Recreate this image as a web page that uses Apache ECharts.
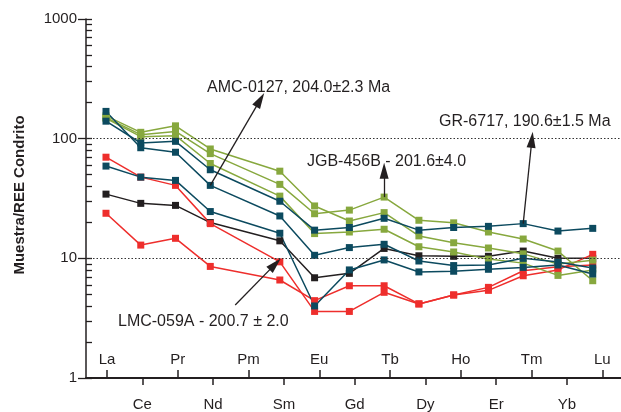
<!DOCTYPE html>
<html>
<head>
<meta charset="utf-8">
<script src="https://cdn.jsdelivr.net/npm/echarts@6/dist/echarts.min.js"></script>
<style>
  html, body { margin: 0; padding: 0; background: #fff; }
  #chart { width: 621px; height: 412px; }
</style>
</head>
<body>
<div id="chart"></div>
<script>
// Rare earth elements, chondrite-normalised (Pm not analysed)
const elements = ['La', 'Ce', 'Pr', 'Nd', 'Pm', 'Sm', 'Eu', 'Gd', 'Tb', 'Dy', 'Ho', 'Er', 'Tm', 'Yb', 'Lu'];
const yTicks = [1, 10, 100, 1000];

// Teal samples
const gr6717   = [140, 92, 95, 55, null, 30, 17.2, 18.1, 21.6, 17.2, 18.1, 18.5, 19.5, 16.9, 17.8];
const amc0127  = [169, 84, 77, 40.7, null, 22.6, 10.6, 12.3, 13.1, 9.5, 8.7, 8.8, 10.0, 9.3, 8.3];
const tealLow  = [59, 47.7, 44.8, 24.6, null, 16.2, 4.0, 8.0, 9.7, 7.7, 7.8, 8.1, 8.4, 8.8, 7.4];
// Green samples
const greenHigh = [155, 113, 128, 82, null, 53.5, 27.4, 20.5, 24.1, 15.4, 13.5, 12.2, 10.9, 8.95, 9.66];
const jgb456b   = [150, 108, 115, 75, null, 41.5, 23.6, 25.3, 32.5, 20.8, 19.8, 16.6, 14.5, 11.5, 6.5];
const greenLow  = [148, 104, 106, 62, null, 33.1, 16.1, 16.6, 17.5, 12.5, 11.3, 9.85, 9.12, 7.2, 8.0];
// Red samples
const lmc059a  = [70, 47.7, 40.7, 19.5, null, 9.35, 3.6, 3.6, 5.2, 4.16, 4.94, 5.4, 7.15, 8.0, 10.8];
const redLow   = [23.8, 12.9, 14.7, 8.56, null, 6.59, 4.43, 5.9, 5.9, 4.16, 4.94, 5.72, 7.87, 8.5, 8.8];
// Black sample
const blackSample = [34.4, 28.8, 27.7, 19.9, null, 14.0, 6.88, 7.49, 12.1, 10.5, 10.4, 10.4, 11.5, 10.0, 10.0];

// Annotation arrows: [from, to] in (element index, normalised value)
const amcArrow = [[3, 40.7], [4.435, 211]];
const grArrow  = [[12, 19.5], [12.25, 98]];
const jgbArrow = [[8, 32.5], [8, 54]];
const lmcArrow = [[3.717, 4.08], [4.866, 8.95]];

const TEAL = '#0c4a5f';
const GREEN = '#87a83e';
const RED = '#ee2e2c';
const INK = '#231f20';
const FONT = '"Liberation Sans", Arial, Helvetica, sans-serif';

const oddIdx = elements.map((e, i) => i).filter(i => i % 2 === 1);
const evenIdx = elements.map((e, i) => i).filter(i => i % 2 === 0);

function toPoints(values) {
  return values.map((v, i) => [i, v]).filter(p => p[1] != null);
}

function arrow(pair) {
  return {
    silent: true,
    symbol: ['none', 'triangle'],
    symbolSize: [9, 16],
    lineStyle: { color: INK, width: 1.3, type: 'solid' },
    label: { show: false },
    emphasis: { disabled: true },
    data: [[{ coord: pair[0] }, { coord: pair[1] }]]
  };
}

function sampleSeries(name, values, color, extra) {
  return Object.assign({
    name: name,
    type: 'line',
    xAxisIndex: 2,
    yAxisIndex: 0,
    data: toPoints(values),
    symbol: 'rect',
    symbolSize: 7,
    lineStyle: { color: color, width: 1.5 },
    itemStyle: { color: color },
    emphasis: { disabled: true }
  }, extra || {});
}

const chart = echarts.init(document.getElementById('chart'), null, { renderer: 'canvas' });

const xMin = -0.593, xMax = 14.528;

chart.setOption({
  animation: false,
  backgroundColor: '#ffffff',
  grid: { left: 86, right: 0, top: 19, bottom: 33, containLabel: false },
  xAxis: [
    {
      type: 'value', min: xMin, max: xMax, position: 'bottom',
      axisLine: { show: true, onZero: false, lineStyle: { color: INK, width: 2 } },
      splitLine: { show: false },
      axisTick: { show: true, customValues: oddIdx, length: 7, lineStyle: { color: INK, width: 1.5 } },
      axisLabel: { customValues: oddIdx, formatter: v => elements[Math.round(v)], margin: 19,
                   fontSize: 15, color: INK, fontFamily: FONT }
    },
    {
      type: 'value', min: xMin, max: xMax, position: 'bottom',
      axisLine: { show: false, onZero: false },
      splitLine: { show: false },
      axisTick: { show: true, inside: true, customValues: evenIdx, length: 8, lineStyle: { color: INK, width: 1.5 } },
      axisLabel: { inside: true, customValues: evenIdx, formatter: v => elements[Math.round(v)], margin: 11,
                   fontSize: 15, color: INK, fontFamily: FONT }
    },
    { type: 'value', min: -0.575, max: 14.813, show: false }
  ],
  yAxis: [
    {
      type: 'log', logBase: 10, min: yTicks[0], max: yTicks[yTicks.length - 1], position: 'left',
      axisLine: { show: true, onZero: false, lineStyle: { color: INK, width: 1.5 } },
      axisTick: { show: true, length: 8, lineStyle: { color: INK, width: 1.3 } },
      axisLabel: { formatter: v => String(v), margin: 9, fontSize: 15, color: INK, fontFamily: FONT },
      splitLine: { show: false },
      minorTick: { show: false }
    },
    {
      // inner ticks: decades and their 2..9 subdivisions
      type: 'log', logBase: 10, min: yTicks[0], max: yTicks[yTicks.length - 1], position: 'left',
      axisLine: { show: false, onZero: false },
      axisTick: { show: true, inside: true, length: 6, lineStyle: { color: INK, width: 1.3 } },
      minorTick: { show: true, splitNumber: 9, length: 6, lineStyle: { color: INK, width: 1.3 } },
      axisLabel: { show: false },
      splitLine: { show: false }
    }
  ],
  graphic: [
    { type: 'text', left: 207, top: 80, silent: true,
      style: { text: 'AMC-0127, 204.0±2.3 Ma', font: '16px ' + FONT, fill: INK } },
    { type: 'text', left: 439, top: 114, silent: true,
      style: { text: 'GR-6717, 190.6±1.5 Ma', font: '16px ' + FONT, fill: INK } },
    { type: 'text', left: 307, top: 154, silent: true,
      style: { text: 'JGB-456B - 201.6±4.0', font: '16px ' + FONT, fill: INK } },
    { type: 'text', left: 118, top: 314, silent: true,
      style: { text: 'LMC-059A - 200.7 ± 2.0', font: '16px ' + FONT, fill: INK } },
    { type: 'text', x: 20, y: 195, rotation: Math.PI / 2, silent: true,
      style: { text: 'Muestra/REE Condrito', font: 'bold 15px ' + FONT, fill: INK,
               align: 'center', verticalAlign: 'middle' } }
  ],
  series: [
    sampleSeries('Negro', blackSample, INK, {
      markLine: {
        silent: true, symbol: 'none', label: { show: false }, emphasis: { disabled: true },
        lineStyle: { color: '#333', width: 1.2, type: [1.5, 2] },
        data: [{ yAxis: yTicks[1] }, { yAxis: yTicks[2] }]
      }
    }),
    sampleSeries('Rojo bajo', redLow, RED),
    sampleSeries('LMC-059A', lmc059a, RED, { markLine: arrow(lmcArrow) }),
    sampleSeries('Verde bajo', greenLow, GREEN),
    sampleSeries('JGB-456B', jgb456b, GREEN, { markLine: arrow(jgbArrow) }),
    sampleSeries('Verde alto', greenHigh, GREEN),
    sampleSeries('Turquesa bajo', tealLow, TEAL),
    sampleSeries('AMC-0127', amc0127, TEAL, { markLine: arrow(amcArrow) }),
    sampleSeries('GR-6717', gr6717, TEAL, { markLine: arrow(grArrow) })
  ]
});
</script>
</body>
</html>
